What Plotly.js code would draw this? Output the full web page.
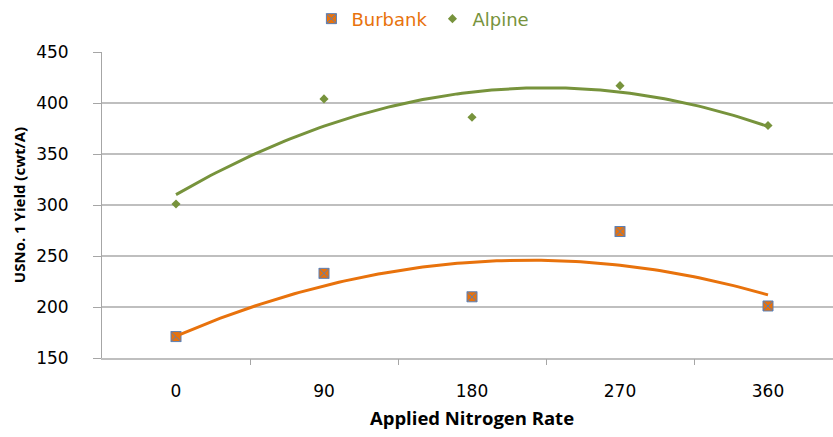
<!DOCTYPE html>
<html>
<head>
<meta charset="utf-8">
<script src="https://cdn.plot.ly/plotly-3.0.1.min.js"></script>
<style>
html,body{margin:0;padding:0;overflow:hidden;background:#fff;width:833px;height:437px;}
#chart{width:842px;height:437px;}
</style>
</head>
<body>
<div id="chart"></div>
<script>
// Data
var nitrogen = [0, 90, 180, 270, 360];
var tickLabels = ['0', '90', '180', '270', '360'];
var burbank = [171, 233, 210, 274, 201];
var alpine = [301, 404, 386, 417, 378];

var orange = '#E8720C';
var green = '#77933C';

// Excel-style 2nd order polynomial trendline (least squares) computed from the data
function polyFit2(xs, ys) {
  var n = xs.length, s = [0,0,0,0,0], t = [0,0,0];
  for (var i = 0; i < n; i++) {
    var p = 1;
    for (var k = 0; k < 5; k++) { s[k] += p; if (k < 3) t[k] += p * ys[i]; p *= xs[i]; }
  }
  var A = [[s[0],s[1],s[2],t[0]],[s[1],s[2],s[3],t[1]],[s[2],s[3],s[4],t[2]]];
  for (var c = 0; c < 3; c++) {
    for (var r = c + 1; r < 3; r++) {
      var f = A[r][c] / A[c][c];
      for (var j = c; j < 4; j++) A[r][j] -= f * A[c][j];
    }
  }
  var co = [0,0,0];
  for (var r2 = 2; r2 >= 0; r2--) {
    var v = A[r2][3];
    for (var j2 = r2 + 1; j2 < 3; j2++) v -= A[r2][j2] * co[j2];
    co[r2] = v / A[r2][r2];
  }
  return co;
}
function trend(xs, ys) {
  var co = polyFit2(xs, ys), tx = [], ty = [];
  var x0 = xs[0], x1 = xs[xs.length - 1];
  for (var i = 0; i <= 120; i++) {
    var x = x0 + (x1 - x0) * i / 120;
    tx.push(x); ty.push(co[0] + co[1] * x + co[2] * x * x);
  }
  return {x: tx, y: ty};
}
var tb = trend(nitrogen, burbank);
var ta = trend(nitrogen, alpine);

var data = [
  {x: tb.x, y: tb.y, xaxis: 'x2', yaxis: 'y', mode: 'lines', line: {color: orange, width: 3}, showlegend: false, hoverinfo: 'skip'},
  {x: ta.x, y: ta.y, xaxis: 'x2', yaxis: 'y', mode: 'lines', line: {color: green, width: 3}, showlegend: false, hoverinfo: 'skip'},
  {x: nitrogen, y: burbank, mode: 'markers', name: '<span style="color:' + orange + '">Burbank</span>',
   marker: {symbol: 'square-x', size: 10, color: orange, line: {color: '#5B7FB5', width: 1}}},
  {x: nitrogen, y: alpine, mode: 'markers', name: '<span style="color:' + green + '">Alpine</span>',
   marker: {symbol: 'diamond', size: 7, color: green, line: {width: 0}}}
];

var layout = {
  width: 842, height: 437,
  margin: {l: 102, r: 0, t: 52, b: 79},
  paper_bgcolor: '#fff', plot_bgcolor: '#fff',
  font: {family: 'DejaVu Sans, sans-serif', size: 17, color: '#000'},
  showlegend: true,
  legend: {orientation: 'h', x: 0.283, xanchor: 'left', y: 1.108, yanchor: 'middle', itemgap: 0,
           font: {family: 'DejaVu Sans, sans-serif', size: 18}, bgcolor: 'rgba(0,0,0,0)'},
  xaxis: {
    type: 'linear', range: [-45, 405], tickmode: 'array', tickvals: nitrogen, ticktext: tickLabels,
    ticks: '', showgrid: false, zeroline: false, showline: true, linecolor: '#BFBFBF', linewidth: 1.5,
    tickfont: {family: 'DejaVu Sans, sans-serif', size: 17, color: '#000'},
    ticklabelstandoff: 17,
    title: {text: '<b>Applied Nitrogen Rate</b>', font: {family: 'Open Sans, sans-serif', size: 18.5, color: '#000'}, standoff: 12},
    fixedrange: true
  },
  xaxis2: {
    type: 'linear', overlaying: 'x', anchor: 'y', side: 'bottom', range: [-45, 405],
    tickmode: 'array', tickvals: [45, 135, 225, 315], ticks: 'outside', ticklen: 6, tickwidth: 1, tickcolor: '#A6A6A6',
    showticklabels: false, showgrid: false, zeroline: false, showline: false, fixedrange: true
  },
  yaxis: {
    range: [150, 450], dtick: 50, tick0: 150, showgrid: true, gridcolor: '#BFBFBF', gridwidth: 1.5,
    zeroline: false, showline: true, linecolor: '#A6A6A6', linewidth: 1,
    ticks: 'outside', ticklen: 8, tickwidth: 1, tickcolor: '#A6A6A6',
    tickfont: {family: 'DejaVu Sans, sans-serif', size: 17, color: '#000'},
    ticklabelstandoff: 21,
    title: {text: '<b>USNo. 1 Yield (cwt/A)</b>', font: {family: 'Open Sans, sans-serif', size: 15, color: '#000'}, standoff: 6},
    fixedrange: true
  }
};

Plotly.newPlot('chart', data, layout, {displayModeBar: false, staticPlot: true});
</script>
</body>
</html>
